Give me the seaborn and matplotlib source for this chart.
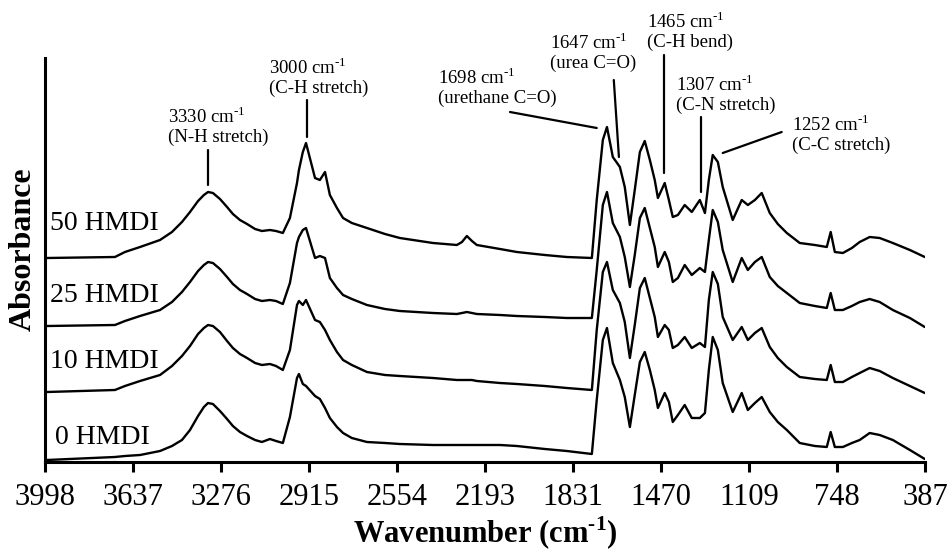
import numpy as np
import pandas as pd
import matplotlib
matplotlib.use("Agg")
import matplotlib.pyplot as plt
import seaborn as sns

# ---- data (wavenumber in cm-1, absorbance in a.u., stacked) ----
wavenumber = [3990, 3711, 3670, 3608, 3526, 3477, 3436, 3403, 3370, 3346,
              3329, 3309, 3280, 3251, 3227, 3198, 3169, 3136, 3108, 3075,
              3050, 3022, 2993, 2964, 2956, 2940, 2927, 2890, 2870, 2849,
              2829, 2800, 2775, 2739, 2677, 2603, 2542, 2406, 2308, 2287,
              2267, 2246, 2226, 2131, 2062, 1947, 1857, 1754, 1734, 1709,
              1692, 1668, 1639, 1619, 1598, 1578, 1557, 1537, 1516, 1496,
              1483, 1455, 1438, 1422, 1401, 1373, 1344, 1311, 1290, 1274,
              1258, 1237, 1217, 1176, 1139, 1114, 1085, 1057, 1024, 991,
              954, 901, 839, 790, 774, 757, 724, 687, 655, 614,
              573, 519, 449, 388]

abs_50 = [2.04, 2.05, 2.10, 2.15, 2.22, 2.30, 2.40, 2.50, 2.61, 2.67,
          2.70, 2.69, 2.63, 2.55, 2.48, 2.42, 2.38, 2.33, 2.31, 2.32,
          2.31, 2.29, 2.44, 2.79, 2.92, 3.10, 3.19, 2.84, 2.82, 2.90,
          2.67, 2.54, 2.44, 2.39, 2.34, 2.28, 2.24, 2.19, 2.17, 2.20,
          2.26, 2.21, 2.17, 2.13, 2.10, 2.07, 2.05, 2.04, 2.62, 3.22,
          3.35, 3.05, 2.95, 2.75, 2.37, 2.72, 3.10, 3.21, 3.02, 2.82,
          2.64, 2.79, 2.62, 2.45, 2.47, 2.57, 2.50, 2.62, 2.49, 2.82,
          3.07, 3.00, 2.75, 2.42, 2.62, 2.57, 2.62, 2.69, 2.49, 2.38,
          2.29, 2.19, 2.17, 2.15, 2.30, 2.10, 2.09, 2.14, 2.20, 2.25,
          2.24, 2.19, 2.12, 2.05]

abs_25 = [1.36, 1.37, 1.41, 1.46, 1.52, 1.60, 1.70, 1.80, 1.91, 1.97,
          2.00, 1.99, 1.93, 1.85, 1.78, 1.72, 1.68, 1.63, 1.61, 1.62,
          1.61, 1.58, 1.79, 2.19, 2.25, 2.32, 2.34, 2.04, 2.06, 2.04,
          1.84, 1.74, 1.67, 1.63, 1.57, 1.53, 1.51, 1.49, 1.48, 1.49,
          1.50, 1.49, 1.48, 1.47, 1.46, 1.45, 1.44, 1.44, 1.92, 2.57,
          2.70, 2.39, 2.25, 2.05, 1.75, 2.07, 2.44, 2.54, 2.34, 2.15,
          1.95, 2.10, 2.00, 1.80, 1.84, 1.97, 1.87, 1.94, 1.90, 2.22,
          2.52, 2.40, 2.12, 1.80, 2.04, 1.92, 2.00, 2.05, 1.85, 1.76,
          1.69, 1.59, 1.56, 1.54, 1.69, 1.52, 1.52, 1.56, 1.60, 1.63,
          1.60, 1.52, 1.44, 1.35]

abs_10 = [0.70, 0.72, 0.76, 0.81, 0.87, 0.96, 1.06, 1.16, 1.28, 1.34,
          1.37, 1.36, 1.30, 1.21, 1.14, 1.08, 1.04, 0.99, 0.97, 0.98,
          0.96, 0.92, 1.12, 1.57, 1.61, 1.57, 1.62, 1.42, 1.40, 1.32,
          1.22, 1.10, 1.02, 0.97, 0.90, 0.87, 0.86, 0.84, 0.82, 0.82,
          0.82, 0.82, 0.81, 0.79, 0.78, 0.76, 0.74, 0.72, 1.32, 1.90,
          2.00, 1.72, 1.59, 1.40, 1.04, 1.37, 1.74, 1.84, 1.64, 1.45,
          1.25, 1.37, 1.32, 1.14, 1.17, 1.25, 1.14, 1.19, 1.15, 1.62,
          1.90, 1.78, 1.45, 1.22, 1.35, 1.22, 1.29, 1.34, 1.15, 1.04,
          0.95, 0.85, 0.83, 0.82, 0.97, 0.80, 0.80, 0.85, 0.89, 0.94,
          0.91, 0.84, 0.76, 0.69]

abs_0 = [0.02, 0.05, 0.06, 0.07, 0.11, 0.16, 0.22, 0.32, 0.46, 0.55,
         0.59, 0.58, 0.51, 0.43, 0.36, 0.30, 0.26, 0.22, 0.20, 0.23,
         0.21, 0.19, 0.45, 0.84, 0.88, 0.78, 0.76, 0.66, 0.63, 0.54,
         0.44, 0.35, 0.29, 0.24, 0.20, 0.19, 0.18, 0.17, 0.17, 0.17,
         0.17, 0.17, 0.17, 0.17, 0.16, 0.13, 0.11, 0.08, 0.62, 1.22,
         1.34, 0.99, 0.82, 0.65, 0.35, 0.67, 1.00, 1.10, 0.92, 0.72,
         0.54, 0.69, 0.60, 0.40, 0.47, 0.57, 0.44, 0.44, 0.49, 0.92,
         1.25, 1.12, 0.79, 0.50, 0.69, 0.52, 0.59, 0.65, 0.50, 0.40,
         0.32, 0.19, 0.16, 0.15, 0.30, 0.15, 0.15, 0.19, 0.22, 0.29,
         0.27, 0.22, 0.12, 0.03]

samples = ["0 HMDI", "10 HMDI", "25 HMDI", "50 HMDI"]
xticks = [3998, 3637, 3276, 2915, 2554, 2193, 1831, 1470, 1109, 748, 387]

# peak annotations: (label, assignment)
peak_labels = ["3330", "3000", "1698", "1647", "1465", "1307", "1252"]
peak_assign = ["(N-H stretch)", "(C-H stretch)", "(urethane C=O)", "(urea C=O)",
               "(C-H bend)", "(C-N stretch)", "(C-C stretch)"]

# ---- build long-form table ----
series = {"0 HMDI": abs_0, "10 HMDI": abs_10, "25 HMDI": abs_25, "50 HMDI": abs_50}
df = pd.concat([pd.DataFrame({"wavenumber": wavenumber, "absorbance": v, "sample": k})
                for k, v in series.items()], ignore_index=True)

sns.set_theme(style="ticks")
plt.rcParams["font.family"] = ["Liberation Serif", "DejaVu Serif"]
plt.rcParams["mathtext.fontset"] = "custom"
plt.rcParams["mathtext.rm"] = "Liberation Serif"
plt.rcParams["mathtext.bf"] = "Liberation Serif:bold"
plt.rcParams["text.color"] = "black"
plt.rcParams["axes.labelcolor"] = "black"
plt.rcParams["xtick.color"] = "black"

fig = plt.figure(figsize=(9.52, 5.55), dpi=100)
ax = fig.add_axes([45 / 952, 1 - 462 / 555, 880 / 952, 404 / 555])

sns.lineplot(data=df, x="wavenumber", y="absorbance", units="sample", estimator=None,
             sort=False, color="black", linewidth=1.7, ax=ax, legend=False)

ax.set_xlim(3998, 387)
ax.set_ylim(0, 4.04)
ax.set_xticks(xticks)
ax.set_xticklabels([str(t) for t in xticks])
ax.set_yticks([])
for s in ["top", "right"]:
    ax.spines[s].set_visible(False)
for s in ["left", "bottom"]:
    ax.spines[s].set_linewidth(2.2)
    ax.spines[s].set_color("black")
ax.tick_params(axis="x", length=7, width=2.2, labelsize=22, pad=8, colors="black")

ax.set_xlabel(r"Wavenumber (cm$^{\text{-}\mathbf{1}}$)", fontsize=22, fontweight="bold", labelpad=2)
ax.set_ylabel("Absorbance", fontsize=23, fontweight="bold")
ax.yaxis.label.set_va("center")
ax.yaxis.set_label_coords(-0.025, 0.527)

# series labels
label_pos = {"50 HMDI": (3977, 2.39), "25 HMDI": (3977, 1.67),
             "10 HMDI": (3977, 1.00), "0 HMDI": (3957, 0.25)}
for name in samples:
    x, y = label_pos[name]
    ax.text(x, y, name, fontsize=20, ha="left", va="center")

# annotation geometry: line start (peak side), line end (text side), text-left x, line1 y, line2 y
ann = [
    ((3329, 2.77), (3329, 3.12), 3493, 3.45, 3.25),
    ((2923, 3.25), (2923, 3.62), 3079, 3.94, 3.74),
    ((1734, 3.34), (2090, 3.50), 2386, 3.84, 3.64),
    ((1643, 3.05), (1664, 3.82), 1926, 4.19, 3.99),
    ((1459, 2.89), (1459, 4.07), 1528, 4.40, 4.20),
    ((1307, 2.70), (1307, 3.45), 1409, 3.77, 3.57),
    ((1217, 3.09), (975, 3.30), 934, 3.37, 3.17),
]
for (p0, p1, tx, y1, y2), lab, asg in zip(ann, peak_labels, peak_assign):
    ax.plot([p0[0], p1[0]], [p0[1], p1[1]], color="black", linewidth=1.6, clip_on=False)
    ax.text(tx, y1, lab + r" cm$^{\text{-}1}$", fontsize=13.5, ha="left", va="center", clip_on=False)
    ax.text(tx, y2, asg, fontsize=13.5, ha="left", va="center", clip_on=False)

fig.savefig("out.png", dpi=100)
